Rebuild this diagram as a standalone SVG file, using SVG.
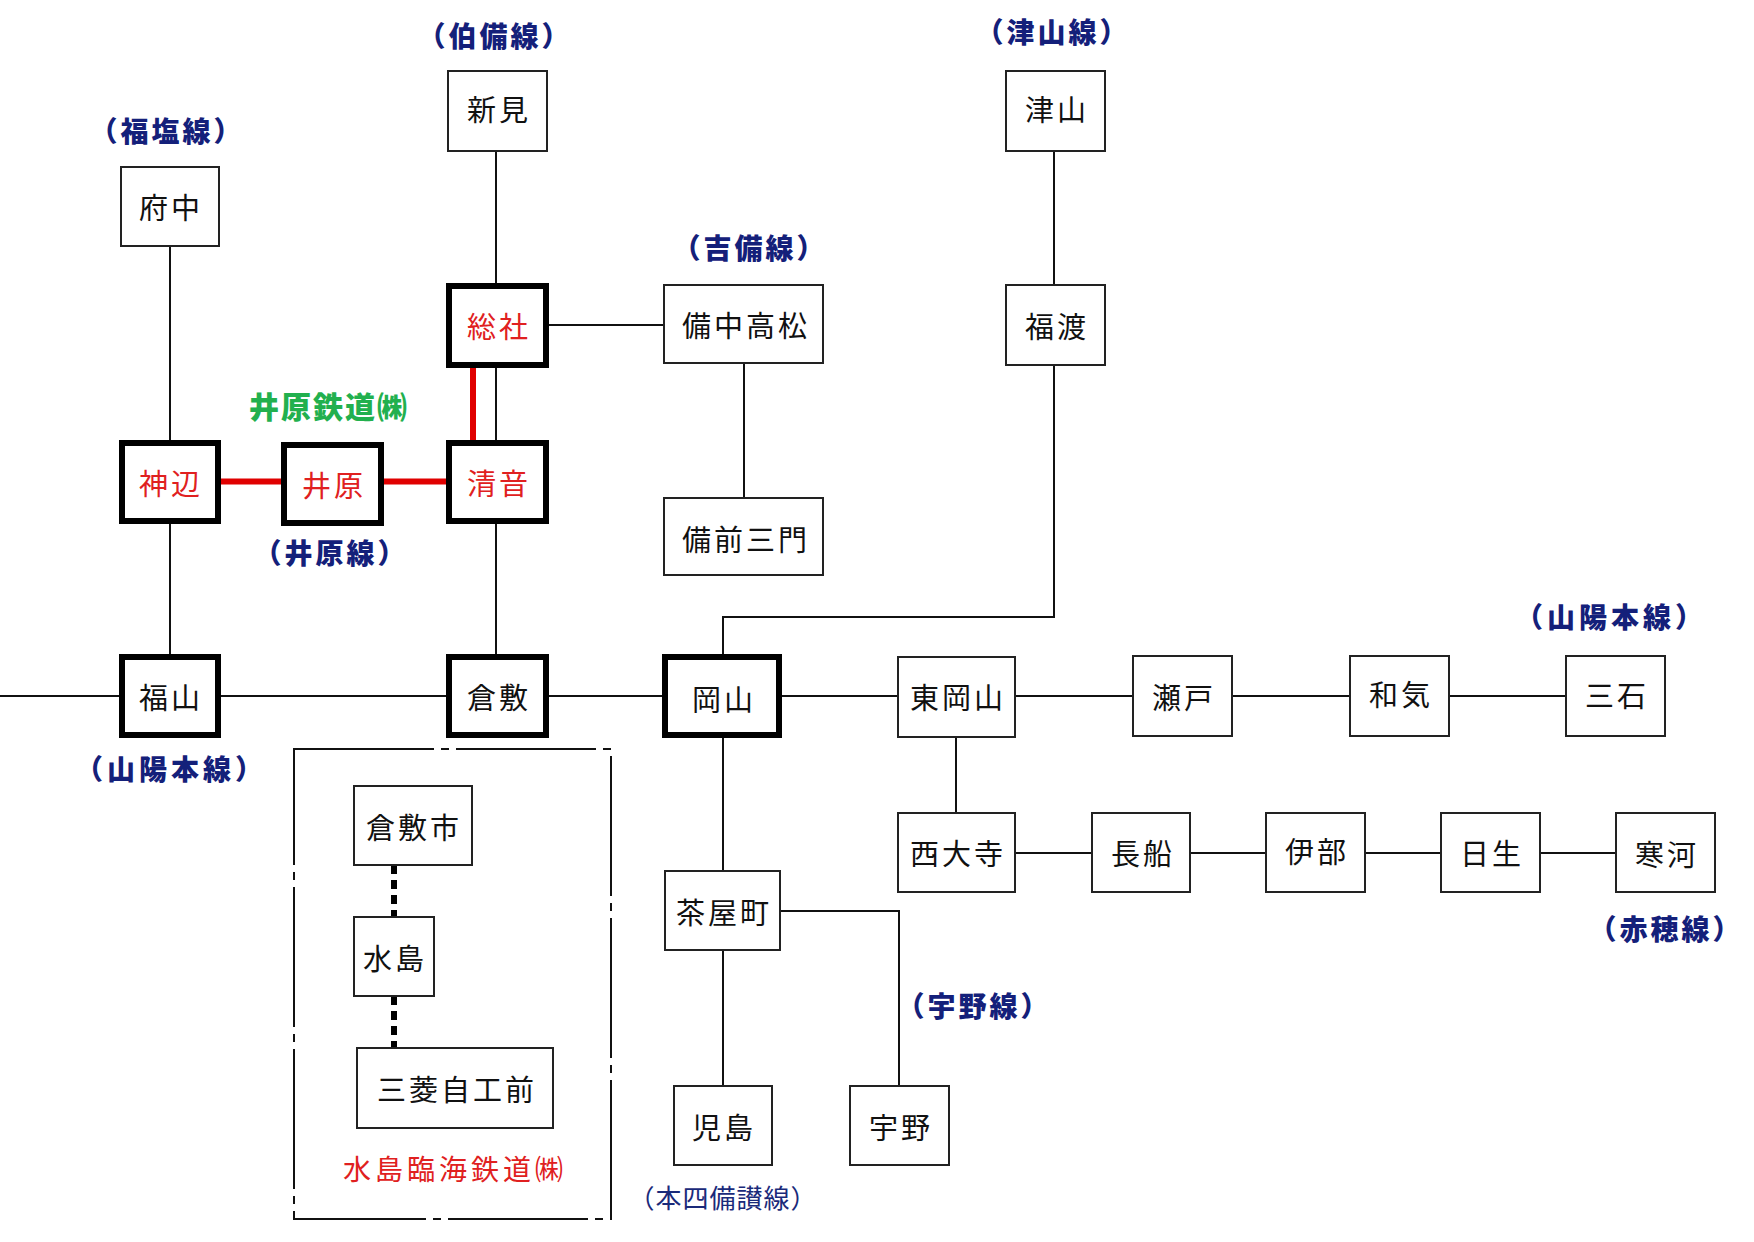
<svg xmlns="http://www.w3.org/2000/svg" width="1754" height="1242" viewBox="0 0 1754 1242">
<style>
.b{fill:#fff;stroke:#222;stroke-width:2}
.t{fill:#fff;stroke:#000;stroke-width:6}
.s{font-family:"Noto Sans CJK JP","Noto Sans CJK SC",sans-serif;font-size:29px;letter-spacing:3px;fill:#111;text-anchor:middle;dominant-baseline:central}
.r{fill:#e02020}
.l{font-family:"Noto Sans CJK JP","Noto Sans CJK SC",sans-serif;font-size:28px;font-weight:900;letter-spacing:3px;fill:#14207a;text-anchor:middle;dominant-baseline:central}
.w{letter-spacing:4px}
.c{fill:none;stroke:#111;stroke-width:2}
.rc{fill:none;stroke:#e00000;stroke-width:6}
.d{fill:none;stroke:#000;stroke-width:6;stroke-dasharray:9 6}
</style>
<rect width="1754" height="1242" fill="#fff"/>
<g id="connectors">
<path class="c" d="M0,696H122M218,696H449M546,696H665M779,696H898M1015,696H1133M1232,696H1350M1449,696H1566"/>
<path class="c" d="M170,246V443M170,521V657"/>
<path class="c" d="M496,151V286M496,365V443M496,521V657"/>
<path class="c" d="M546,325H664M744,363V498"/>
<path class="c" d="M1054,151V285M1054,365V617H723V657"/>
<path class="c" d="M723,735V871M723,950V1086M780,911H899V1086"/>
<path class="c" d="M956,737V813M1015,853H1092M1190,853H1266M1365,853H1441M1540,853H1616"/>
<path class="rc" d="M218,481.5H284M381,481.5H449M473,365V443"/>
<path class="d" d="M394,865V917M394,996V1048"/>
<path fill="none" stroke="#111" stroke-width="2" stroke-dasharray="140 7 8 7" d="M294,749H611V1219H294Z"/>
</g>
<g id="n-fuchu"><rect class="b" x="121" y="167" width="98" height="79"/><text class="s" x="171" y="206">府中</text></g>
<g id="n-niimi"><rect class="b" x="448" y="71" width="99" height="80"/><text class="s" x="499" y="108">新見</text></g>
<g id="n-soja"><rect class="t" x="449" y="286" width="97" height="79"/><text class="s r" x="499" y="325">総社</text></g>
<g id="n-kannabe"><rect class="t" x="122" y="443" width="96" height="78"/><text class="s r" x="171" y="482">神辺</text></g>
<g id="n-ibara"><rect class="t" x="284" y="445" width="97" height="78"/><text class="s r" x="334" y="484">井原</text></g>
<g id="n-kiyone"><rect class="t" x="449" y="443" width="97" height="78"/><text class="s r" x="499" y="482">清音</text></g>
<g id="n-fukuyama"><rect class="t" x="122" y="657" width="96" height="78"/><text class="s" x="171" y="696">福山</text></g>
<g id="n-kurashiki"><rect class="t" x="449" y="657" width="97" height="78"/><text class="s" x="499" y="696">倉敷</text></g>
<g id="n-okayama"><rect class="t" x="665" y="657" width="114" height="78"/><text class="s" x="724" y="698">岡山</text></g>
<g id="n-bitchutakamatsu"><rect class="b" x="664" y="285" width="159" height="78"/><text class="s" x="746" y="324">備中高松</text></g>
<g id="n-bizensanmon"><rect class="b" x="664" y="498" width="159" height="77"/><text class="s" x="746" y="538">備前三門</text></g>
<g id="n-tsuyama"><rect class="b" x="1006" y="71" width="99" height="80"/><text class="s" x="1057" y="108">津山</text></g>
<g id="n-fukuwatari"><rect class="b" x="1006" y="285" width="99" height="80"/><text class="s" x="1057" y="325">福渡</text></g>
<g id="n-higashiokayama"><rect class="b" x="898" y="657" width="117" height="80"/><text class="s" x="958" y="696">東岡山</text></g>
<g id="n-seto"><rect class="b" x="1133" y="656" width="99" height="80"/><text class="s" x="1184" y="696">瀬戸</text></g>
<g id="n-wake"><rect class="b" x="1350" y="656" width="99" height="80"/><text class="s" x="1401" y="693">和気</text></g>
<g id="n-mitsuishi"><rect class="b" x="1566" y="656" width="99" height="80"/><text class="s" x="1617" y="694">三石</text></g>
<g id="n-saidaiji"><rect class="b" x="898" y="813" width="117" height="79"/><text class="s" x="958" y="852">西大寺</text></g>
<g id="n-osafune"><rect class="b" x="1092" y="813" width="98" height="79"/><text class="s" x="1143" y="852">長船</text></g>
<g id="n-inbe"><rect class="b" x="1266" y="813" width="99" height="79"/><text class="s" x="1317" y="850">伊部</text></g>
<g id="n-hinase"><rect class="b" x="1441" y="813" width="99" height="79"/><text class="s" x="1492" y="852">日生</text></g>
<g id="n-sogo"><rect class="b" x="1616" y="813" width="99" height="79"/><text class="s" x="1667" y="853">寒河</text></g>
<g id="n-chayamachi"><rect class="b" x="665" y="871" width="115" height="79"/><text class="s" x="724" y="911">茶屋町</text></g>
<g id="n-kojima"><rect class="b" x="674" y="1086" width="98" height="79"/><text class="s" x="724" y="1126">児島</text></g>
<g id="n-uno"><rect class="b" x="850" y="1086" width="99" height="79"/><text class="s" x="901" y="1126">宇野</text></g>
<g id="n-kurashikishi"><rect class="b" x="354" y="786" width="118" height="79"/><text class="s" x="414" y="826">倉敷市</text></g>
<g id="n-mizushima"><rect class="b" x="354" y="917" width="80" height="79"/><text class="s" x="395" y="957">水島</text></g>
<g id="n-mitsubishi"><rect class="b" x="357" y="1048" width="196" height="80"/><text class="s" x="457" y="1088">三菱自工前</text></g>
<g id="labels">
<text class="l" x="167" y="130">（福塩線）</text>
<text class="l" x="495" y="35">（伯備線）</text>
<text class="l" x="750" y="247">（吉備線）</text>
<text class="l" x="1053" y="31">（津山線）</text>
<text class="l" x="331" y="552">（井原線）</text>
<text class="l w" x="171" y="768">（山陽本線）</text>
<text class="l w" x="1611" y="616">（山陽本線）</text>
<text class="l" x="974" y="1005">（宇野線）</text>
<text class="l" x="1666" y="928">（赤穂線）</text>
<text class="l" x="329" y="405" style="fill:#22b04e;font-size:30px;letter-spacing:2px">井原鉄道㈱</text>
<text class="l" x="723" y="1196" style="font-weight:normal;font-size:26px;letter-spacing:1px;fill:#1a2a7a">（本四備讃線）</text>
<text class="l" x="455" y="1168" style="font-weight:normal;font-size:28px;letter-spacing:4px;fill:#e02020">水島臨海鉄道㈱</text>
</g>
</svg>
